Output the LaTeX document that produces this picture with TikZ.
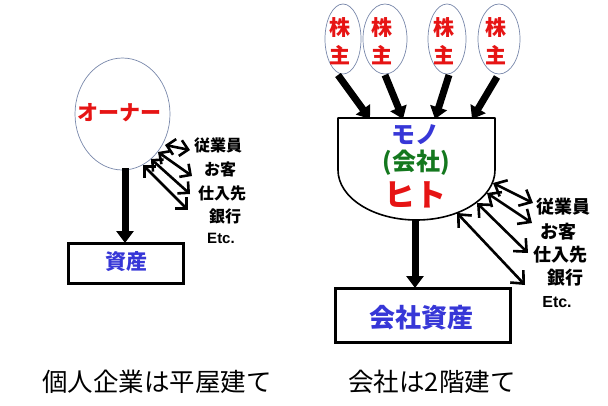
\documentclass[tikz,border=0pt]{standalone}
\usepackage{fontspec}
\setmainfont{Noto Sans CJK JP}
\newfontfamily\lat{Liberation Sans}
\usetikzlibrary{arrows.meta}
\definecolor{cred}{RGB}{230,20,20}
\definecolor{cblue}{RGB}{55,55,215}
\definecolor{cgreen}{RGB}{20,120,30}
\definecolor{eline}{RGB}{120,135,170}
\tikzset{
  lbl/.style={inner sep=0pt, font=\fontsize{#1}{#1}\selectfont\bfseries},
  captxt/.style={inner sep=0pt, font=\fontsize{25.5}{25.5}\selectfont},
  thick arrow/.style={line width=7pt, -{Triangle[length=12pt,width=17pt]}},
  dbl/.style={line width=2.6pt, {Straight Barb[length=10pt,width=18pt]}-{Straight Barb[length=10pt,width=18pt]}},
  dbls/.style={line width=2.6pt, {Straight Barb[length=8pt,width=16pt]}-{Straight Barb[length=8pt,width=16pt]}},
  boxed/.style={draw, line width=3pt},
}
\begin{document}
\begin{tikzpicture}[x=1pt,y=-1pt]
\useasboundingbox (0,0) rectangle (608,405);
% ---------- left diagram ----------
\draw[eline, line width=0.7pt] (122.5,114) ellipse [x radius=47.5, y radius=56];
\node[lbl=21, text=cred] (owner) at (119,113) {オーナー};
\coordinate (ownbot) at (125,168);
\draw[boxed] (68,243) rectangle (183,283);
\node[lbl=21, text=cblue] (asset) at (126,262) {資産};
\coordinate (assettop) at (125,243);
\draw[thick arrow] (ownbot) -- (assettop);
% labels
\node[lbl=16] (l1) at (218,145) {従業員};
\node[lbl=16] (l2) at (220,169) {お客};
\node[lbl=16] (l3) at (222,193) {仕入先};
\node[lbl=16] (l4) at (225,216) {銀行};
\node[lbl=15] (l5) at (221,238) {\lat\bfseries Etc.};
\coordinate (ls1) at (143,165); \coordinate (le1) at (188,210);
\coordinate (ls2) at (151,159); \coordinate (le2) at (190,194);
\coordinate (ls3) at (158,152); \coordinate (le3) at (192,176);
\coordinate (ls4) at (165,145); \coordinate (le4) at (190,150);
\draw[dbls] (ls1) -- (le1);
\draw[dbls] (ls2) -- (le2);
\draw[dbls] (ls3) -- (le3);
\draw[dbls] (ls4) -- (le4);
% ---------- right diagram ----------
\foreach \n/\cx/\rx in {1/343/18, 2/385/22, 3/447/19, 4/499/21}{
  \draw[eline, line width=0.7pt] (\cx,39) ellipse [x radius=\rx, y radius=35];
  \node[lbl=21, text=cred] (k\n) at (\cx-3,28) {株};
  \node[lbl=21, text=cred] (s\n) at (\cx-3,55) {主};
}
\coordinate (e1) at (338,75); \coordinate (t1) at (370,119);
\coordinate (e2) at (385,75); \coordinate (t2) at (403,119);
\coordinate (e3) at (449,75); \coordinate (t3) at (435,119);
\coordinate (e4) at (497,77); \coordinate (t4) at (472,119);
\draw[thick arrow] (e1) -- (t1);
\draw[thick arrow] (e2) -- (t2);
\draw[thick arrow] (e3) -- (t3);
\draw[thick arrow] (e4) -- (t4);
% bowl
\draw[line width=1.6pt, line join=round] (338,118) -- (495,118) -- (495,170)
   arc[start angle=0, end angle=180, x radius=78.5, y radius=50] -- cycle;
\node[lbl=24, text=cblue] (mono) at (415,135) {モノ};
\node[lbl=24, text=cgreen] (kaisha) at (416,163) {(会社)};
\node[lbl=31, text=cred] (hito) at (415,195) {ヒト};
\coordinate (bowlbot) at (415,219);
\draw[boxed] (335,288) rectangle (510,342);
\node[lbl=26, text=cblue] (casset) at (421,318) {会社資産};
\coordinate (cassettop) at (415,288);
\draw[thick arrow] (bowlbot) -- (cassettop);
% labels
\node[lbl=18] (r1) at (563,207) {従業員};
\node[lbl=18] (r2) at (558,232) {お客};
\node[lbl=18] (r3) at (560,255) {仕入先};
\node[lbl=18] (r4) at (565,278) {銀行};
\node[lbl=16] (r5) at (557,302) {\lat\bfseries Etc.};
\coordinate (rs1) at (493,183); \coordinate (re1) at (533,203);
\coordinate (rs2) at (487,193); \coordinate (re2) at (532,223);
\coordinate (rs3) at (477,203); \coordinate (re3) at (528,253);
\coordinate (rs4) at (457,213); \coordinate (re4) at (525,285);
\draw[dbl] (rs1) -- (re1);
\draw[dbl] (rs2) -- (re2);
\draw[dbl] (rs3) -- (re3);
\draw[dbl] (rs4) -- (re4);
% captions
\node[captxt] (c1) at (157,382) {個人企業は平屋建て};
\node[captxt] (c2) at (432,382) {会社は2階建て};
\end{tikzpicture}
\end{document}
